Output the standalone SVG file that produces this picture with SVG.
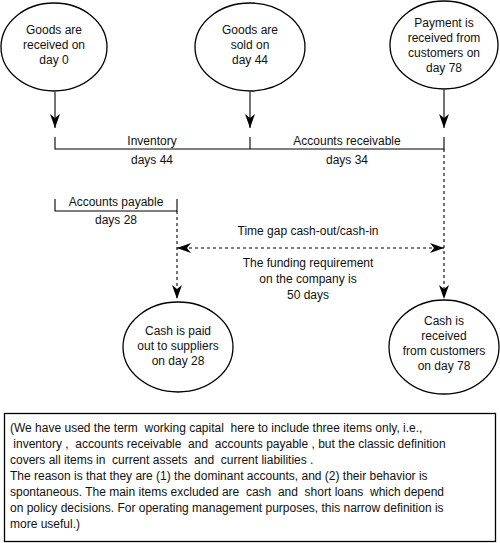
<svg xmlns="http://www.w3.org/2000/svg" width="500" height="543" viewBox="0 0 500 543">
<defs>
<style>
text{font-family:"Liberation Sans",Arial,sans-serif;font-size:12px;fill:#111}
.c{text-anchor:middle}
.node{fill:#fff;stroke:#000;stroke-width:1.3}
.ln{fill:none;stroke:#000;stroke-width:1.1}
.dash{fill:none;stroke:#000;stroke-width:1.1;stroke-dasharray:3,3}
</style>
<marker id="ah" viewBox="0 0 14 10" refX="14" refY="5" markerWidth="14" markerHeight="10" markerUnits="userSpaceOnUse" orient="auto">
<path d="M0,0 L14,5 L0,10 L4,5 Z" fill="#000"/>
</marker>
<marker id="ahs" viewBox="0 0 14 10" refX="0" refY="5" markerWidth="14" markerHeight="10" markerUnits="userSpaceOnUse" orient="auto">
<path d="M14,0 L0,5 L14,10 L10,5 Z" fill="#000"/>
</marker>
</defs>
<rect width="500" height="543" fill="#fff"/>
<g id="connectors">
<line class="ln" x1="55" y1="92" x2="55" y2="128" marker-end="url(#ah)"/>
<line class="ln" x1="250" y1="92" x2="250" y2="128" marker-end="url(#ah)"/>
<line class="ln" x1="444" y1="90" x2="444" y2="128" marker-end="url(#ah)"/>
<path class="ln" d="M55,137 V149 H444 V137 M250,137 V149"/>
<path class="ln" d="M55,199 V211 H177 V199"/>
<line class="dash" x1="177" y1="211" x2="177" y2="299" marker-end="url(#ah)"/>
<line class="dash" x1="444" y1="149" x2="444" y2="299" marker-end="url(#ah)"/>
<line class="dash" x1="177" y1="248" x2="444" y2="248" marker-start="url(#ahs)" marker-end="url(#ah)"/>
</g>
<g id="labels">
<text class="c" x="152" y="145">Inventory</text>
<text class="c" x="152" y="164">days 44</text>
<text class="c" x="347" y="145">Accounts receivable</text>
<text class="c" x="347" y="164">days 34</text>
<text class="c" x="116" y="206">Accounts payable</text>
<text class="c" x="116" y="224">days 28</text>
<text class="c" x="308" y="235">Time gap cash-out/cash-in</text>
<text class="c" x="308" y="267">The funding requirement</text>
<text class="c" x="308" y="283">on the company is</text>
<text class="c" x="308" y="299">50 days</text>
</g>
<g id="n1">
<ellipse class="node" cx="54" cy="47" rx="53" ry="44"/>
<text class="c" x="54" y="34">Goods are</text>
<text class="c" x="54" y="49">received on</text>
<text class="c" x="54" y="64">day 0</text>
</g>
<g id="n2">
<ellipse class="node" cx="250" cy="47" rx="55" ry="44"/>
<text class="c" x="250" y="34">Goods are</text>
<text class="c" x="250" y="49">sold on</text>
<text class="c" x="250" y="64">day 44</text>
</g>
<g id="n3">
<ellipse class="node" cx="444" cy="45" rx="54" ry="44"/>
<text class="c" x="444" y="27">Payment is</text>
<text class="c" x="444" y="42">received from</text>
<text class="c" x="444" y="57">customers on</text>
<text class="c" x="444" y="72">day 78</text>
</g>
<g id="n4">
<ellipse class="node" cx="178" cy="347" rx="55" ry="45"/>
<text class="c" x="178" y="335">Cash is paid</text>
<text class="c" x="178" y="350">out to suppliers</text>
<text class="c" x="178" y="365">on day 28</text>
</g>
<g id="n5">
<ellipse class="node" cx="444" cy="347" rx="55" ry="47"/>
<text class="c" x="444" y="325">Cash is</text>
<text class="c" x="444" y="340">received</text>
<text class="c" x="444" y="355">from customers</text>
<text class="c" x="444" y="370">on day 78</text>
</g>
<g id="note">
<rect x="4.5" y="413.5" width="491" height="128" fill="#fff" stroke="#000" stroke-width="1.3"/>
<text x="10" y="432" xml:space="preserve">(We have used the term  working capital  here to include three items only, i.e.,</text>
<text x="10" y="448" xml:space="preserve"> inventory ,  accounts receivable  and  accounts payable , but the classic definition</text>
<text x="10" y="464" xml:space="preserve">covers all items in  current assets  and  current liabilities .</text>
<text x="10" y="480">The reason is that they are (1) the dominant accounts, and (2) their behavior is</text>
<text x="10" y="496" xml:space="preserve">spontaneous. The main items excluded are  cash  and  short loans  which depend</text>
<text x="10" y="512">on policy decisions. For operating management purposes, this narrow definition is</text>
<text x="10" y="528">more useful.)</text>
</g>
</svg>
